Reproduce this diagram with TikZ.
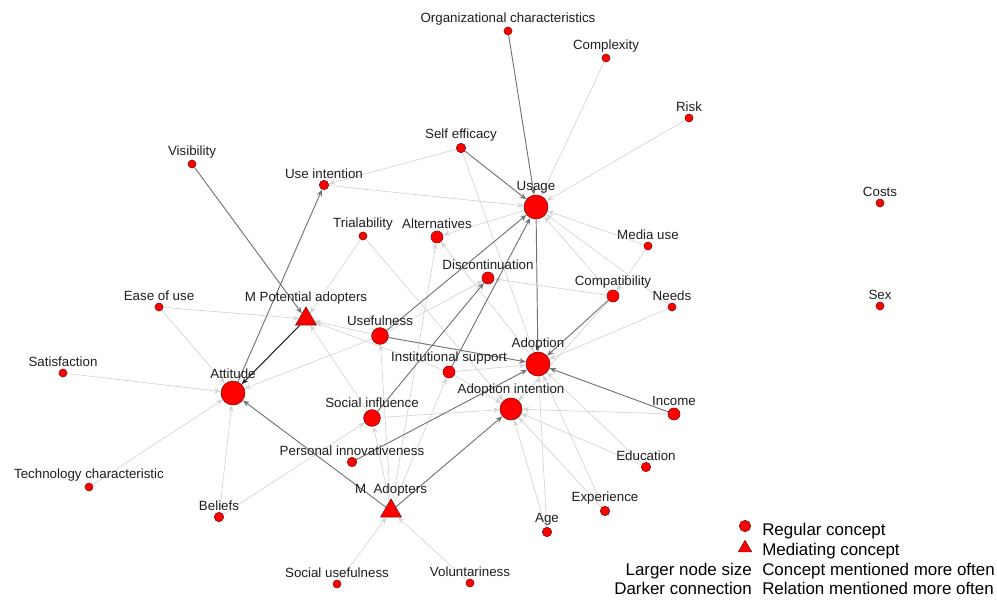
\documentclass[tikz,border=0pt]{standalone}
\usepackage{fontspec}
\setmainfont{Liberation Sans}
\usetikzlibrary{positioning,shapes.geometric,arrows.meta,backgrounds}
\definecolor{ink}{HTML}{1E1E1E}
\definecolor{conceptFill}{HTML}{FF0000}
\definecolor{conceptLine}{HTML}{8C1010}
\tikzset{
    concept/.style={
        circle,
        draw=conceptLine,
        fill=conceptFill,
        line width=0.5pt,
        minimum size=7pt,
        inner sep=0pt
    },
    tinyconcept/.style={concept, minimum size=6pt},
    midconcept/.style={concept, minimum size=9pt},
    bigconcept/.style={concept, minimum size=12.5pt},
    hugeconcept/.style={concept, minimum size=18pt},
    mediator/.style={
        regular polygon,
        regular polygon sides=3,
        draw=conceptLine,
        fill=conceptFill,
        line width=0.5pt,
        minimum size=18pt,
        inner sep=0pt
    },
    conceptlabel/.style={
        font=\fontsize{10}{12}\selectfont,
        text=ink,
        inner sep=1pt
    },
    weakrel/.style={
        -{Stealth[length=5pt,width=4pt]},
        draw=black!17,
        line width=0.5pt
    },
    midrel/.style={
        -{Stealth[length=5pt,width=4pt]},
        draw=black!55,
        line width=0.7pt
    },
    strongrel/.style={
        -{Stealth[length=5pt,width=4pt]},
        draw=black!85,
        line width=0.8pt
    },
    legendtext/.style={
        font=\fontsize{12.7}{14}\selectfont,
        text=black,
        inner sep=0pt
    }
}

\begin{document}
\begin{tikzpicture}[x=0.75pt,y=-0.75pt]
    \useasboundingbox (0,0) rectangle (997,601);

    % Usage cluster (top)
    \node[tinyconcept] (orgchar) at (508,31) {};
    \node[tinyconcept] (complexity) at (606,58) {};
    \node[tinyconcept] (risk) at (689,118) {};
    \node[concept] (selfeff) at (461,148) {};
    \node[tinyconcept] (visibility) at (192,164) {};
    \node[concept] (useint) at (324,185) {};
    \node[hugeconcept] (usage) at (536,207) {};
    \node[tinyconcept] (costs) at (880,203) {};
    \node[tinyconcept] (trial) at (363,236) {};
    \node[midconcept] (altern) at (437,237) {};
    \node[tinyconcept] (mediause) at (648,246) {};
    \node[midconcept] (discont) at (488,278) {};
    \node[midconcept] (compat) at (613,296) {};
    \node[tinyconcept] (needs) at (672,307) {};
    \node[tinyconcept] (sex) at (880,306) {};

    % Middle of the map
    \node[tinyconcept] (easeuse) at (159,307) {};
    \node[mediator] (mpot) at (306,319) {};
    \node[bigconcept] (useful) at (380,336) {};
    \node[hugeconcept] (adoption) at (538,364) {};
    \node[tinyconcept] (satisf) at (63,373) {};
    \node[midconcept] (instsup) at (449,372) {};
    \node[hugeconcept] (attitude) at (233,393) {};
    \node[hugeconcept, minimum size=16.5pt] (adoptint) at (511,409) {};
    \node[midconcept] (income) at (674,414) {};
    \node[bigconcept] (socinfl) at (372,418) {};

    % Lower part
    \node[concept] (persinn) at (352,462) {};
    \node[concept] (education) at (646,467) {};
    \node[tinyconcept] (techchar) at (89,487) {};
    \node[mediator] (madopt) at (391,511) {};
    \node[concept] (experience) at (605,511) {};
    \node[concept] (age) at (547,532) {};
    \node[concept] (beliefs) at (219,517) {};
    \node[tinyconcept] (socuse) at (337,584) {};
    \node[tinyconcept] (volunt) at (470,583) {};

    % Concept names
    \node[conceptlabel, above=0pt of orgchar] (orgchar-l) {Organizational characteristics};
    \node[conceptlabel, above=0pt of complexity] (complexity-l) {Complexity};
    \node[conceptlabel, above=0pt of risk] (risk-l) {Risk};
    \node[conceptlabel, above=0pt of selfeff] (selfeff-l) {Self efficacy};
    \node[conceptlabel, above=0pt of visibility] (visibility-l) {Visibility};
    \node[conceptlabel, above=0pt of useint] (useint-l) {Use intention};
    \node[conceptlabel, above=0pt of usage] (usage-l) {Usage};
    \node[conceptlabel, above=0pt of costs] (costs-l) {Costs};
    \node[conceptlabel, above=0pt of trial] (trial-l) {Trialability};
    \node[conceptlabel, above=0pt of altern] (altern-l) {Alternatives};
    \node[conceptlabel, above=0pt of mediause] (mediause-l) {Media use};
    \node[conceptlabel, above=0pt of discont] (discont-l) {Discontinuation};
    \node[conceptlabel, above=0pt of compat] (compat-l) {Compatibility};
    \node[conceptlabel, above=0pt of needs] (needs-l) {Needs};
    \node[conceptlabel, above=0pt of sex] (sex-l) {Sex};
    \node[conceptlabel, above=0pt of easeuse] (easeuse-l) {Ease of use};
    \node[conceptlabel, above=0pt of mpot] (mpot-l) {M Potential adopters};
    \node[conceptlabel, above=0pt of useful] (useful-l) {Usefulness};
    \node[conceptlabel, above=0pt of adoption] (adoption-l) {Adoption};
    \node[conceptlabel, above=0pt of satisf] (satisf-l) {Satisfaction};
    \node[conceptlabel, above=0pt of instsup] (instsup-l) {Institutional support};
    \node[conceptlabel, above=0pt of attitude] (attitude-l) {Attitude};
    \node[conceptlabel, above=0pt of adoptint] (adoptint-l) {Adoption intention};
    \node[conceptlabel, above=0pt of income] (income-l) {Income};
    \node[conceptlabel, above=0pt of socinfl] (socinfl-l) {Social influence};
    \node[conceptlabel, above=0pt of persinn] (persinn-l) {Personal innovativeness};
    \node[conceptlabel, above=0pt of education] (education-l) {Education};
    \node[conceptlabel, above=0pt of techchar] (techchar-l) {Technology characteristic};
    \node[conceptlabel, above=0pt of madopt] (madopt-l) {M~~Adopters};
    \node[conceptlabel, above=0pt of experience] (experience-l) {Experience};
    \node[conceptlabel, above=0pt of age] (age-l) {Age};
    \node[conceptlabel, above=0pt of beliefs] (beliefs-l) {Beliefs};
    \node[conceptlabel, above=0pt of socuse] (socuse-l) {Social usefulness};
    \node[conceptlabel, above=0pt of volunt] (volunt-l) {Voluntariness};

    \begin{scope}[on background layer]
        % Relations mentioned once: light
        \foreach \a/\b in {complexity/usage, risk/usage, mediause/usage, compat/usage,
                needs/usage, useint/usage, usage/altern, selfeff/useint, selfeff/adoption,
                trial/mpot, trial/adoptint, easeuse/mpot, easeuse/attitude,
                satisf/attitude, techchar/attitude, beliefs/attitude, beliefs/socinfl,
                useful/attitude, useful/mpot, useful/discont, socinfl/mpot,
                socinfl/adoptint, instsup/mpot, instsup/adoption, instsup/adoptint,
                adoption/altern, madopt/altern, madopt/socinfl, madopt/useful,
                madopt/instsup, socuse/madopt, volunt/madopt, mediause/compat,
                compat/discont, compat/adoptint, needs/adoption, income/adoptint,
                education/adoption, education/adoptint, experience/adoption,
                experience/adoptint, age/adoption, age/adoptint} {
            \draw[weakrel] (\a) -- (\b);
        }

        % Relations mentioned more often: darker
        \foreach \a/\b in {orgchar/usage, selfeff/usage, visibility/mpot,
                attitude/useint, useful/usage, useful/adoption, socinfl/discont,
                instsup/usage, usage/adoption, compat/adoption, income/adoption,
                persinn/adoption, madopt/attitude, madopt/adoptint} {
            \draw[midrel] (\a) -- (\b);
        }

        % Most frequent relation
        \draw[strongrel] (mpot) -- (attitude);
    \end{scope}

    % Legend
    \node[concept, minimum size=8.5pt] (legreg) at (745,526) {};
    \node[legendtext, anchor=base west] (legreg-t) at (762,535) {Regular concept};
    \node[mediator, minimum size=11.5pt] (legmed) at (745,548) {};
    \node[legendtext, anchor=base west] (legmed-t) at (762,555) {Mediating concept};
    \node[legendtext, anchor=base east] (legsize) at (752,575) {Larger node size};
    \node[legendtext, anchor=base west] (legsize-t) at (762,575) {Concept mentioned more often};
    \node[legendtext, anchor=base east] (legdark) at (752,594) {Darker connection};
    \node[legendtext, anchor=base west] (legdark-t) at (762,594) {Relation mentioned more often};
\end{tikzpicture}
\end{document}
